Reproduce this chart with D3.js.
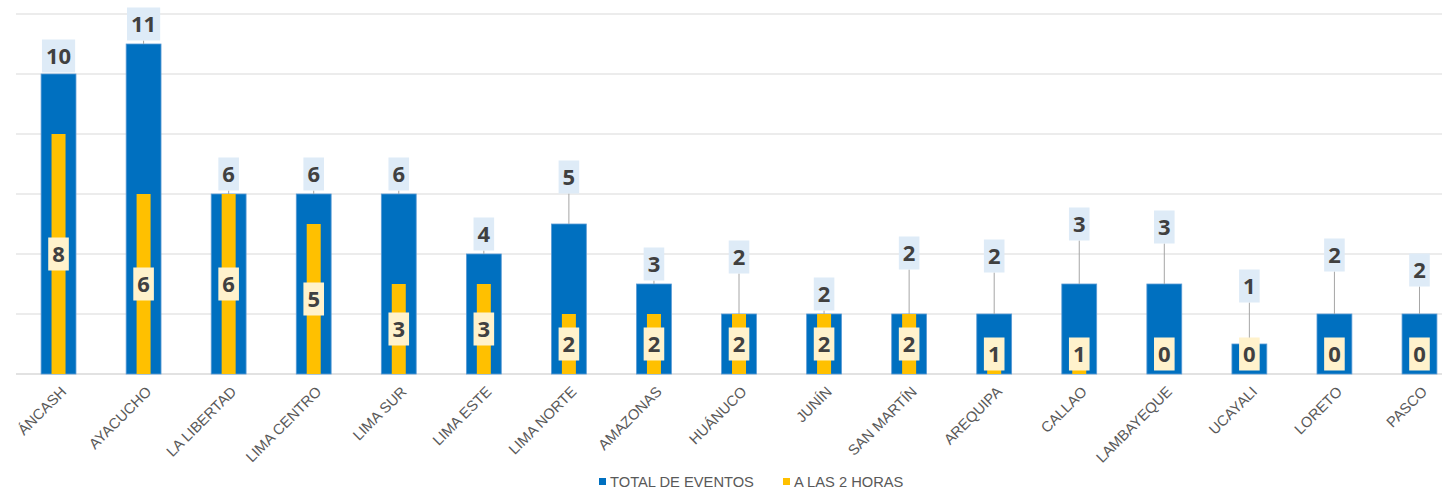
<!DOCTYPE html>
<html>
<head>
<meta charset="utf-8">
<script src="https://cdn.jsdelivr.net/npm/d3@7"></script>
<style>
  html, body { margin: 0; padding: 0; background: #ffffff; }
  svg { display: block; }
</style>
</head>
<body>
<svg id="chart" width="1442" height="489"></svg>
<script>
// ---- data ----
const categories = ["ÁNCASH", "AYACUCHO", "LA LIBERTAD", "LIMA CENTRO", "LIMA SUR", "LIMA ESTE", "LIMA NORTE", "AMAZONAS", "HUÁNUCO", "JUNÍN", "SAN MARTÍN", "AREQUIPA", "CALLAO", "LAMBAYEQUE", "UCAYALI", "LORETO", "PASCO"];
const totalEventos = [10, 11, 6, 6, 6, 4, 5, 3, 2, 2, 2, 2, 3, 3, 1, 2, 2];
const aLas2Horas   = [8, 6, 6, 5, 3, 3, 2, 2, 2, 2, 2, 1, 1, 0, 0, 0, 0];
const seriesNames  = ["TOTAL DE EVENTOS", "A LAS 2 HORAS"];
const yTicks = [0, 2, 4, 6, 8, 10, 12];

// ---- layout (label lift above bar top, px; mimics manually moved labels) ----
const totalLabelLift = [18, 20, 20, 20, 20, 20, 47, 20, 57, 20, 61, 58, 60, 57, 58, 59, 44];

const colors = { total: "#0070C0", horas: "#FFC000" };
const svg = d3.select("#chart");

const plotLeft = 16, plotRight = 16 + 17 * 85.06, plotTop = 14, plotBottom = 374;

const x = d3.scaleBand().domain(categories).range([plotLeft, plotRight]).paddingInner(0).paddingOuter(0);
const y = d3.scaleLinear().domain([0, 12]).range([plotBottom, plotTop]);

const blueW = x.bandwidth() * 0.41;
const yellowW = 14;

// gridlines
svg.append("g").selectAll("line").data(yTicks).join("line")
  .attr("x1", plotLeft).attr("x2", 1442)
  .attr("y1", d => y(d)).attr("y2", d => y(d))
  .attr("stroke", "#D9D9D9")
  .attr("stroke-width", d => d === 0 ? 1.5 : 1);

const data = categories.map((c, i) => ({ c, i, t: totalEventos[i], h: aLas2Horas[i] }));
const cx = d => x(d.c) + x.bandwidth() / 2;

// blue bars
svg.append("g").selectAll("rect").data(data).join("rect")
  .attr("x", d => cx(d) - blueW / 2)
  .attr("y", d => y(d.t))
  .attr("width", blueW)
  .attr("height", d => y(0) - y(d.t))
  .attr("fill", colors.total)
  .attr("stroke", "#5B9BD5").attr("stroke-width", 0.8);

// yellow bars
svg.append("g").selectAll("rect").data(data).join("rect")
  .attr("x", d => cx(d) - yellowW / 2)
  .attr("y", d => y(d.h))
  .attr("width", yellowW)
  .attr("height", d => y(0) - y(d.h))
  .attr("fill", colors.horas);

const labelFont = "'Open Sans', 'Noto Sans', sans-serif";

function addLabel(g, xc, yc, txt, fill) {
  const grp = g.append("g");
  const rect = grp.append("rect").attr("fill", fill);
  const t = grp.append("text")
    .attr("x", xc).attr("y", yc).attr("dy", "0.357em")
    .attr("text-anchor", "middle")
    .attr("font-family", labelFont).attr("font-weight", 700)
    .attr("font-size", 22).attr("fill", "#404040")
    .text(txt);
  const w = t.node().getComputedTextLength() + 8;
  const h = 33;
  rect.attr("x", xc - w / 2).attr("y", yc - h / 2).attr("width", w).attr("height", h);
}

// total labels with leader lines
const gTot = svg.append("g");
data.forEach(d => {
  const barTop = y(d.t);
  const yc = barTop - totalLabelLift[d.i];
  const lb = yc + 16.5;
  if (barTop - lb > 3) {
    gTot.append("line")
      .attr("x1", cx(d)).attr("x2", cx(d))
      .attr("y1", lb).attr("y2", barTop)
      .attr("stroke", "#A6A6A6").attr("stroke-width", 1);
  }
});
data.forEach(d => {
  const yc = y(d.t) - totalLabelLift[d.i];
  addLabel(gTot, cx(d), yc, d.t, "#DEEBF7");
});

// yellow labels
const gH = svg.append("g");
data.forEach(d => {
  const yc = Math.min(y(d.h / 2), y(0) - 20);
  addLabel(gH, cx(d), yc, d.h, "#FFF2CC");
});

// category axis labels
svg.append("g").selectAll("text").data(data).join("text")
  .attr("transform", d => `translate(${cx(d) + 5},${389}) rotate(-45)`)
  .attr("dy", "0.35em")
  .attr("text-anchor", "end")
  .attr("font-family", "'Liberation Sans', Arial, sans-serif")
  .attr("font-size", 14.7)
  .attr("fill", "#595959")
  .text(d => d.c);

// legend
const legend = svg.append("g").attr("font-family", "'Liberation Sans', Arial, sans-serif").attr("font-size", 14.7).attr("fill", "#595959");
const legendItems = [
  { name: seriesNames[0], color: colors.total, x: 599 },
  { name: seriesNames[1], color: colors.horas, x: 783 }
];
legendItems.forEach(it => {
  legend.append("rect").attr("x", it.x).attr("y", 478).attr("width", 7).attr("height", 7).attr("fill", it.color);
  legend.append("text").attr("x", it.x + 11).attr("y", 487).text(it.name);
});
</script>
</body>
</html>
